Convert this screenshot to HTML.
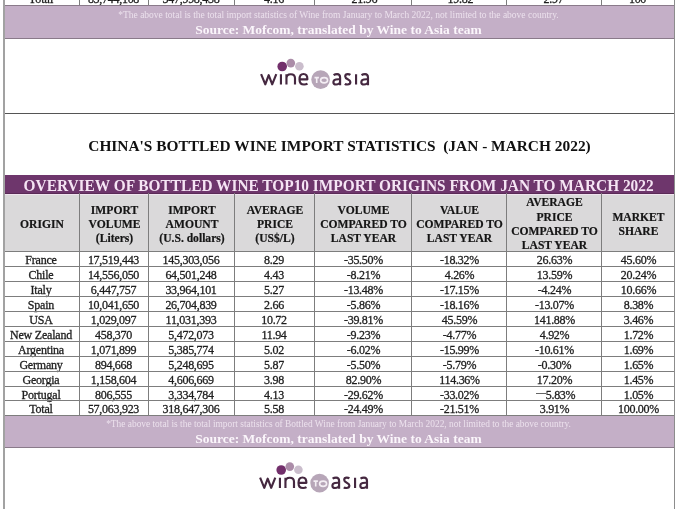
<!DOCTYPE html>
<html><head><meta charset="utf-8">
<style>
html,body{margin:0;padding:0;-webkit-font-smoothing:antialiased;}
body{width:678px;height:509px;overflow:hidden;position:relative;background:#fff;font-family:"Liberation Serif",serif;color:#1e1e1e;}
.a{position:absolute;}
.hl{position:absolute;height:1px;background:#7d7d7d;}
.vl{position:absolute;width:1px;background:#7d7d7d;}
.c{position:absolute;text-align:center;white-space:nowrap;font-size:12px;line-height:15px;-webkit-text-stroke:0.3px #1e1e1e;}
.h{position:absolute;text-align:center;white-space:nowrap;font-size:11.6px;line-height:14.3px;font-weight:bold;color:#151515;-webkit-text-stroke:0.2px #151515;}
.band{position:absolute;background:#c4afc7;}
#w{position:absolute;left:0;top:0;width:678px;height:509px;will-change:transform;background:#fff;}
</style></head><body><div id="w">

<div class="c" style="left:3px;width:76px;top:-8px">Total</div>
<div class="c" style="left:79px;width:69px;top:-8px;letter-spacing:-0.28px">85,744,108</div>
<div class="c" style="left:148px;width:86px;top:-8px;letter-spacing:-0.28px">347,998,438</div>
<div class="c" style="left:234px;width:80px;top:-8px;letter-spacing:-0.28px">4.16</div>
<div class="c" style="left:314px;width:97px;top:-8px;letter-spacing:-0.28px">-21.96</div>
<div class="c" style="left:411px;width:95px;top:-8px;letter-spacing:-0.28px">-19.82</div>
<div class="c" style="left:506px;width:95px;top:-8px;letter-spacing:-0.28px">2.97</div>
<div class="c" style="left:601px;width:73px;top:-8px;letter-spacing:-0.28px">100</div>
<div class="vl" style="left:79px;top:0px;height:6px;width:1px"></div>
<div class="vl" style="left:148px;top:0px;height:6px;width:1px"></div>
<div class="vl" style="left:234px;top:0px;height:6px;width:1px"></div>
<div class="vl" style="left:314px;top:0px;height:6px;width:1px"></div>
<div class="vl" style="left:411px;top:0px;height:6px;width:1px"></div>
<div class="vl" style="left:506px;top:0px;height:6px;width:1px"></div>
<div class="vl" style="left:601px;top:0px;height:6px;width:1px"></div>
<div class="band" style="left:3px;width:671px;top:6px;height:32px"></div>
<div class="hl" style="left:3px;width:672px;top:5px;height:1px;background:#8a7a8a"></div>
<div class="hl" style="left:3px;width:672px;top:38px;height:1px;background:#8a7a8a"></div>
<div class="a" style="left:3px;width:671px;top:10px;text-align:center;font-size:9.5px;line-height:11px;color:#ece1ed">*The above total is the total import statistics of Wine from January to March 2022, not limited to the above country.</div>
<div class="a" style="left:3px;width:671px;top:22px;text-align:center;font-size:13.5px;line-height:15px;font-weight:bold;color:#fbf6fb">Source: Mofcom, translated by Wine to Asia team</div>
<svg class="a" style="left:0;top:0" width="678" height="509" viewBox="0 0 678 509"><g transform="translate(0,0)"><circle cx="282.2" cy="66.5" r="4.8" fill="#722f6b"/><circle cx="290.8" cy="63.1" r="4.3" fill="#ab8ca8"/><circle cx="299.4" cy="66.2" r="4.3" fill="#cabdcc"/><circle cx="320.6" cy="79.6" r="9.3" fill="#b7a6b8"/><path d="M261.1,74.2 L265.3,84.3 L268.7,75.2 L272.2,84.3 L276.3,74.2 M280.95,74.3 V84.5 M286.45,74.2 V84.5 M286.45,78.3 C286.45,75.6 288.3,74.2 290.8,74.2 C293.4,74.2 295,75.6 295,78.3 V84.5 M299.5,79.3 H307.4 C307.4,75.7 305.7,74 303.5,74 C300.9,74 299.5,76.3 299.5,79.4 C299.5,82.7 301.2,84.5 304.1,84.5 C305.5,84.5 306.6,84.2 307.5,83.6 M333.60,75.1 C334.60,74.4 335.90,74.1 337.10,74.1 C339.20,74.1 340.10,75.3 340.10,77.6 V85.3 M340.10,79.3 C338.60,79.2 337.20,79.2 335.90,79.5 C334.20,79.9 333.40,80.9 333.40,82.2 C333.40,83.7 334.60,84.5 336.10,84.5 C338.10,84.5 340.10,83.2 340.10,81.2 M350.4,74.8 C349.7,74.3 348.8,74.1 347.8,74.1 C346.1,74.1 345.2,75.1 345.2,76.5 C345.2,79.6 350.4,78.8 350.4,82.0 C350.4,83.6 349.3,84.5 347.4,84.5 C346.3,84.5 345.3,84.2 344.8,83.8 M356.05,74.3 V84.5 M361.50,75.1 C362.50,74.4 363.80,74.1 365.00,74.1 C367.10,74.1 368.00,75.3 368.00,77.6 V85.3 M368.00,79.3 C366.50,79.2 365.10,79.2 363.80,79.5 C362.10,79.9 361.30,80.9 361.30,82.2 C361.30,83.7 362.50,84.5 364.00,84.5 C366.00,84.5 368.00,83.2 368.00,81.2" fill="none" stroke="#452840" stroke-width="2.15" stroke-linecap="butt" stroke-linejoin="round"/><path d="M314.5,77.6 H318.9 M316.7,77.6 V82.9" fill="none" stroke="#f4eef4" stroke-width="1.6"/><ellipse cx="324.1" cy="80.25" rx="3.5" ry="2.6" fill="none" stroke="#f4eef4" stroke-width="1.6"/></g></svg>
<div class="hl" style="left:3px;width:672px;top:113px;height:1px;background:#555"></div>
<div class="a" style="left:4px;width:671px;top:136.5px;text-align:center;font-size:15.4px;line-height:18px;font-weight:bold;color:#111">CHINA'S BOTTLED WINE IMPORT STATISTICS&nbsp; (JAN - MARCH 2022)</div>
<div class="a" style="left:3px;width:671px;top:175px;height:19px;background:#6e366c"></div>
<div class="hl" style="left:3px;width:672px;top:193px;height:1px;background:#5a2a57"></div>
<div class="hl" style="left:3px;width:672px;top:194px;height:1px;background:#efe3ee"></div>
<div class="a" style="left:3px;width:671px;top:177px;text-align:center;font-size:16px;line-height:18px;font-weight:bold;color:#f5e4f4;transform:scaleX(0.96);transform-origin:339px 0;white-space:nowrap">OVERVIEW OF BOTTLED WINE TOP10 IMPORT ORIGINS FROM JAN TO MARCH 2022</div>
<div class="a" style="left:3px;width:671px;top:195px;height:56px;background:#dad9da"></div>
<div class="h" style="left:4px;width:76px;top:217.85px">ORIGIN</div>
<div class="h" style="left:80px;width:69px;top:203.55px">IMPORT<br>VOLUME<br>(Liters)</div>
<div class="h" style="left:149px;width:86px;top:203.55px">IMPORT<br>AMOUNT<br>(U.S. dollars)</div>
<div class="h" style="left:235px;width:80px;top:203.55px">AVERAGE<br>PRICE<br>(US$/L)</div>
<div class="h" style="left:315px;width:97px;top:203.55px">VOLUME<br>COMPARED TO<br>LAST YEAR</div>
<div class="h" style="left:412px;width:95px;top:203.55px">VALUE<br>COMPARED TO<br>LAST YEAR</div>
<div class="h" style="left:507px;width:95px;top:196.4px">AVERAGE<br>PRICE<br>COMPARED TO<br>LAST YEAR</div>
<div class="h" style="left:602px;width:73px;top:210.7px">MARKET<br>SHARE</div>
<div class="c" style="left:3px;width:76px;top:253px;letter-spacing:-0.2px">France</div>
<div class="c" style="left:79px;width:69px;top:253px;letter-spacing:-0.28px">17,519,443</div>
<div class="c" style="left:148px;width:86px;top:253px;letter-spacing:-0.28px">145,303,056</div>
<div class="c" style="left:234px;width:80px;top:253px;letter-spacing:-0.28px">8.29</div>
<div class="c" style="left:315px;width:97px;top:253px;letter-spacing:-0.28px">-35.50%</div>
<div class="c" style="left:412px;width:95px;top:253px;letter-spacing:-0.28px">-18.32%</div>
<div class="c" style="left:507px;width:95px;top:253px;letter-spacing:-0.28px">26.63%</div>
<div class="c" style="left:602px;width:73px;top:253px;letter-spacing:-0.28px">45.60%</div>
<div class="c" style="left:3px;width:76px;top:268px;letter-spacing:-0.2px">Chile</div>
<div class="c" style="left:79px;width:69px;top:268px;letter-spacing:-0.28px">14,556,050</div>
<div class="c" style="left:148px;width:86px;top:268px;letter-spacing:-0.28px">64,501,248</div>
<div class="c" style="left:234px;width:80px;top:268px;letter-spacing:-0.28px">4.43</div>
<div class="c" style="left:315px;width:97px;top:268px;letter-spacing:-0.28px">-8.21%</div>
<div class="c" style="left:412px;width:95px;top:268px;letter-spacing:-0.28px">4.26%</div>
<div class="c" style="left:507px;width:95px;top:268px;letter-spacing:-0.28px">13.59%</div>
<div class="c" style="left:602px;width:73px;top:268px;letter-spacing:-0.28px">20.24%</div>
<div class="c" style="left:3px;width:76px;top:283px;letter-spacing:-0.2px">Italy</div>
<div class="c" style="left:79px;width:69px;top:283px;letter-spacing:-0.28px">6,447,757</div>
<div class="c" style="left:148px;width:86px;top:283px;letter-spacing:-0.28px">33,964,101</div>
<div class="c" style="left:234px;width:80px;top:283px;letter-spacing:-0.28px">5.27</div>
<div class="c" style="left:315px;width:97px;top:283px;letter-spacing:-0.28px">-13.48%</div>
<div class="c" style="left:412px;width:95px;top:283px;letter-spacing:-0.28px">-17.15%</div>
<div class="c" style="left:507px;width:95px;top:283px;letter-spacing:-0.28px">-4.24%</div>
<div class="c" style="left:602px;width:73px;top:283px;letter-spacing:-0.28px">10.66%</div>
<div class="c" style="left:3px;width:76px;top:298px;letter-spacing:-0.2px">Spain</div>
<div class="c" style="left:79px;width:69px;top:298px;letter-spacing:-0.28px">10,041,650</div>
<div class="c" style="left:148px;width:86px;top:298px;letter-spacing:-0.28px">26,704,839</div>
<div class="c" style="left:234px;width:80px;top:298px;letter-spacing:-0.28px">2.66</div>
<div class="c" style="left:315px;width:97px;top:298px;letter-spacing:-0.28px">-5.86%</div>
<div class="c" style="left:412px;width:95px;top:298px;letter-spacing:-0.28px">-18.16%</div>
<div class="c" style="left:507px;width:95px;top:298px;letter-spacing:-0.28px">-13.07%</div>
<div class="c" style="left:602px;width:73px;top:298px;letter-spacing:-0.28px">8.38%</div>
<div class="c" style="left:3px;width:76px;top:313px;letter-spacing:-0.2px">USA</div>
<div class="c" style="left:79px;width:69px;top:313px;letter-spacing:-0.28px">1,029,097</div>
<div class="c" style="left:148px;width:86px;top:313px;letter-spacing:-0.28px">11,031,393</div>
<div class="c" style="left:234px;width:80px;top:313px;letter-spacing:-0.28px">10.72</div>
<div class="c" style="left:315px;width:97px;top:313px;letter-spacing:-0.28px">-39.81%</div>
<div class="c" style="left:412px;width:95px;top:313px;letter-spacing:-0.28px">45.59%</div>
<div class="c" style="left:507px;width:95px;top:313px;letter-spacing:-0.28px">141.88%</div>
<div class="c" style="left:602px;width:73px;top:313px;letter-spacing:-0.28px">3.46%</div>
<div class="c" style="left:3px;width:76px;top:328px;letter-spacing:-0.2px">New Zealand</div>
<div class="c" style="left:79px;width:69px;top:328px;letter-spacing:-0.28px">458,370</div>
<div class="c" style="left:148px;width:86px;top:328px;letter-spacing:-0.28px">5,472,073</div>
<div class="c" style="left:234px;width:80px;top:328px;letter-spacing:-0.28px">11.94</div>
<div class="c" style="left:315px;width:97px;top:328px;letter-spacing:-0.28px">-9.23%</div>
<div class="c" style="left:412px;width:95px;top:328px;letter-spacing:-0.28px">-4.77%</div>
<div class="c" style="left:507px;width:95px;top:328px;letter-spacing:-0.28px">4.92%</div>
<div class="c" style="left:602px;width:73px;top:328px;letter-spacing:-0.28px">1.72%</div>
<div class="c" style="left:3px;width:76px;top:343px;letter-spacing:-0.2px">Argentina</div>
<div class="c" style="left:79px;width:69px;top:343px;letter-spacing:-0.28px">1,071,899</div>
<div class="c" style="left:148px;width:86px;top:343px;letter-spacing:-0.28px">5,385,774</div>
<div class="c" style="left:234px;width:80px;top:343px;letter-spacing:-0.28px">5.02</div>
<div class="c" style="left:315px;width:97px;top:343px;letter-spacing:-0.28px">-6.02%</div>
<div class="c" style="left:412px;width:95px;top:343px;letter-spacing:-0.28px">-15.99%</div>
<div class="c" style="left:507px;width:95px;top:343px;letter-spacing:-0.28px">-10.61%</div>
<div class="c" style="left:602px;width:73px;top:343px;letter-spacing:-0.28px">1.69%</div>
<div class="c" style="left:3px;width:76px;top:358px;letter-spacing:-0.2px">Germany</div>
<div class="c" style="left:79px;width:69px;top:358px;letter-spacing:-0.28px">894,668</div>
<div class="c" style="left:148px;width:86px;top:358px;letter-spacing:-0.28px">5,248,695</div>
<div class="c" style="left:234px;width:80px;top:358px;letter-spacing:-0.28px">5.87</div>
<div class="c" style="left:315px;width:97px;top:358px;letter-spacing:-0.28px">-5.50%</div>
<div class="c" style="left:412px;width:95px;top:358px;letter-spacing:-0.28px">-5.79%</div>
<div class="c" style="left:507px;width:95px;top:358px;letter-spacing:-0.28px">-0.30%</div>
<div class="c" style="left:602px;width:73px;top:358px;letter-spacing:-0.28px">1.65%</div>
<div class="c" style="left:3px;width:76px;top:373px;letter-spacing:-0.2px">Georgia</div>
<div class="c" style="left:79px;width:69px;top:373px;letter-spacing:-0.28px">1,158,604</div>
<div class="c" style="left:148px;width:86px;top:373px;letter-spacing:-0.28px">4,606,669</div>
<div class="c" style="left:234px;width:80px;top:373px;letter-spacing:-0.28px">3.98</div>
<div class="c" style="left:315px;width:97px;top:373px;letter-spacing:-0.28px">82.90%</div>
<div class="c" style="left:412px;width:95px;top:373px;letter-spacing:-0.28px">114.36%</div>
<div class="c" style="left:507px;width:95px;top:373px;letter-spacing:-0.28px">17.20%</div>
<div class="c" style="left:602px;width:73px;top:373px;letter-spacing:-0.28px">1.45%</div>
<div class="c" style="left:3px;width:76px;top:388px;letter-spacing:-0.2px">Portugal</div>
<div class="c" style="left:79px;width:69px;top:388px;letter-spacing:-0.28px">806,555</div>
<div class="c" style="left:148px;width:86px;top:388px;letter-spacing:-0.28px">3,334,784</div>
<div class="c" style="left:234px;width:80px;top:388px;letter-spacing:-0.28px">4.13</div>
<div class="c" style="left:315px;width:97px;top:388px;letter-spacing:-0.28px">-29.62%</div>
<div class="c" style="left:412px;width:95px;top:388px;letter-spacing:-0.28px">-33.02%</div>
<div class="c" style="left:507px;width:95px;top:388px;letter-spacing:-0.28px"><span style="display:inline-block;width:10px;height:1px;background:#666;vertical-align:5px;margin-left:2px"></span>5.83%</div>
<div class="c" style="left:602px;width:73px;top:388px;letter-spacing:-0.28px">1.05%</div>
<div class="c" style="left:3px;width:76px;top:402px;letter-spacing:-0.2px">Total</div>
<div class="c" style="left:79px;width:69px;top:402px;letter-spacing:-0.28px">57,063,923</div>
<div class="c" style="left:148px;width:86px;top:402px;letter-spacing:-0.28px">318,647,306</div>
<div class="c" style="left:234px;width:80px;top:402px;letter-spacing:-0.28px">5.58</div>
<div class="c" style="left:315px;width:97px;top:402px;letter-spacing:-0.28px">-24.49%</div>
<div class="c" style="left:412px;width:95px;top:402px;letter-spacing:-0.28px">-21.51%</div>
<div class="c" style="left:507px;width:95px;top:402px;letter-spacing:-0.28px">3.91%</div>
<div class="c" style="left:602px;width:73px;top:402px;letter-spacing:-0.28px">100.00%</div>
<div class="hl" style="left:3px;width:672px;top:251px;height:1px"></div>
<div class="hl" style="left:3px;width:672px;top:266px;height:1px"></div>
<div class="hl" style="left:3px;width:672px;top:281px;height:1px"></div>
<div class="hl" style="left:3px;width:672px;top:296px;height:1px"></div>
<div class="hl" style="left:3px;width:672px;top:311px;height:1px"></div>
<div class="hl" style="left:3px;width:672px;top:326px;height:1px"></div>
<div class="hl" style="left:3px;width:672px;top:341px;height:1px"></div>
<div class="hl" style="left:3px;width:672px;top:356px;height:1px"></div>
<div class="hl" style="left:3px;width:672px;top:371px;height:1px"></div>
<div class="hl" style="left:3px;width:672px;top:386px;height:1px"></div>
<div class="hl" style="left:3px;width:672px;top:400px;height:1px"></div>
<div class="hl" style="left:3px;width:672px;top:415px;height:1px"></div>
<div class="vl" style="left:79px;top:193px;height:223px;width:1px"></div>
<div class="vl" style="left:148px;top:193px;height:223px;width:1px"></div>
<div class="vl" style="left:234px;top:193px;height:223px;width:1px"></div>
<div class="vl" style="left:314px;top:193px;height:223px;width:1px"></div>
<div class="vl" style="left:411px;top:193px;height:223px;width:1px"></div>
<div class="vl" style="left:506px;top:193px;height:223px;width:1px"></div>
<div class="vl" style="left:601px;top:193px;height:223px;width:1px"></div>
<div class="band" style="left:3px;width:671px;top:416px;height:31px"></div>
<div class="hl" style="left:3px;width:672px;top:447px;height:1px;background:#8a7a8a"></div>
<div class="a" style="left:3px;width:671px;top:419px;text-align:center;font-size:9.4px;line-height:11px;color:#ece1ed">*The above total is the total import statistics of Bottled Wine from January to March 2022, not limited to the above country.</div>
<div class="a" style="left:3px;width:671px;top:431px;text-align:center;font-size:13.5px;line-height:15px;font-weight:bold;color:#fbf6fb">Source: Mofcom, translated by Wine to Asia team</div>
<svg class="a" style="left:0;top:0" width="678" height="509" viewBox="0 0 678 509"><g transform="translate(-1,403.5)"><circle cx="282.2" cy="66.5" r="4.8" fill="#722f6b"/><circle cx="290.8" cy="63.1" r="4.3" fill="#ab8ca8"/><circle cx="299.4" cy="66.2" r="4.3" fill="#cabdcc"/><circle cx="320.6" cy="79.6" r="9.3" fill="#b7a6b8"/><path d="M261.1,74.2 L265.3,84.3 L268.7,75.2 L272.2,84.3 L276.3,74.2 M280.95,74.3 V84.5 M286.45,74.2 V84.5 M286.45,78.3 C286.45,75.6 288.3,74.2 290.8,74.2 C293.4,74.2 295,75.6 295,78.3 V84.5 M299.5,79.3 H307.4 C307.4,75.7 305.7,74 303.5,74 C300.9,74 299.5,76.3 299.5,79.4 C299.5,82.7 301.2,84.5 304.1,84.5 C305.5,84.5 306.6,84.2 307.5,83.6 M333.60,75.1 C334.60,74.4 335.90,74.1 337.10,74.1 C339.20,74.1 340.10,75.3 340.10,77.6 V85.3 M340.10,79.3 C338.60,79.2 337.20,79.2 335.90,79.5 C334.20,79.9 333.40,80.9 333.40,82.2 C333.40,83.7 334.60,84.5 336.10,84.5 C338.10,84.5 340.10,83.2 340.10,81.2 M350.4,74.8 C349.7,74.3 348.8,74.1 347.8,74.1 C346.1,74.1 345.2,75.1 345.2,76.5 C345.2,79.6 350.4,78.8 350.4,82.0 C350.4,83.6 349.3,84.5 347.4,84.5 C346.3,84.5 345.3,84.2 344.8,83.8 M356.05,74.3 V84.5 M361.50,75.1 C362.50,74.4 363.80,74.1 365.00,74.1 C367.10,74.1 368.00,75.3 368.00,77.6 V85.3 M368.00,79.3 C366.50,79.2 365.10,79.2 363.80,79.5 C362.10,79.9 361.30,80.9 361.30,82.2 C361.30,83.7 362.50,84.5 364.00,84.5 C366.00,84.5 368.00,83.2 368.00,81.2" fill="none" stroke="#452840" stroke-width="2.15" stroke-linecap="butt" stroke-linejoin="round"/><path d="M314.5,77.6 H318.9 M316.7,77.6 V82.9" fill="none" stroke="#f4eef4" stroke-width="1.6"/><ellipse cx="324.1" cy="80.25" rx="3.5" ry="2.6" fill="none" stroke="#f4eef4" stroke-width="1.6"/></g></svg>
<div class="vl" style="left:3px;top:0px;height:509px;width:2px;background:#a2a2a2"></div>
<div class="vl" style="left:674px;top:0px;height:509px;width:1px;background:#8c8c8c"></div>
</div></body></html>
